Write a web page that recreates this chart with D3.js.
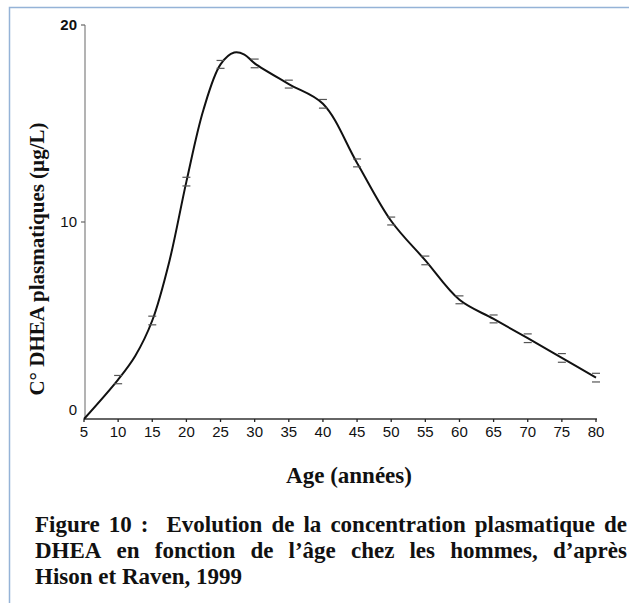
<!DOCTYPE html>
<html>
<head>
<meta charset="utf-8">
<script src="https://cdn.jsdelivr.net/npm/d3@7"></script>
<style>
  html, body { margin: 0; padding: 0; background: #fff; }
  svg { display: block; }
</style>
</head>
<body>
<div id="chart"></div>
<script>
// curve (age, µg/L)
const curveAges = [5, 10, 12.5, 15, 17.5, 20, 22.5, 25, 27, 28.5, 30, 35, 40, 45, 50, 55, 60, 65, 70, 75, 80]
const curveValues = [0, 2.0, 3.2, 5.0, 8.0, 12.05, 15.7, 18.0, 18.6, 18.5, 18.05, 17.0, 16.0, 13.0, 10.05, 8.05, 6.05, 5.08, 4.1, 3.1, 2.1]

// error bars
const barAges = [10, 15, 20, 25, 30, 35, 40, 45, 50, 55, 60, 65, 70, 75, 80]
const barMeans = [2.0, 5.0, 12.05, 18.0, 18.05, 17.0, 16.0, 13.0, 10.05, 8.05, 6.05, 5.08, 4.1, 3.1, 2.1]
const barSpread = [0.21, 0.22, 0.22, 0.2, 0.22, 0.2, 0.22, 0.2, 0.2, 0.22, 0.2, 0.2, 0.22, 0.22, 0.22]

const xTicks = [5, 10, 15, 20, 25, 30, 35, 40, 45, 50, 55, 60, 65, 70, 75, 80]
const yTicks = [0, 10, 20]

const yTitle = 'C° DHEA plasmatiques (µg/L)'
const xTitle = 'Age (années)'
const captionLines = [
  ['Figure', '10', ':', '', 'Evolution', 'de', 'la', 'concentration', 'plasmatique', 'de'],
  ['DHEA', 'en', 'fonction', 'de', 'l’âge', 'chez', 'les', 'hommes,', 'd’après'],
  ['Hison et Raven, 1999']
]

const width = 629
const height = 603
const serif = '"Liberation Serif", "Times New Roman", serif'
const sans = '"Liberation Sans", Arial, sans-serif'

const svg = d3
  .select('#chart')
  .append('svg')
  .attr('width', width)
  .attr('height', height)

svg.append('rect').attr('width', width).attr('height', height).attr('fill', '#fff')

// light blue frame, top and left
svg
  .append('path')
  .attr('d', 'M9.5,' + height + 'V7.5H' + width)
  .attr('fill', 'none')
  .attr('stroke', '#95b3d7')
  .attr('stroke-width', 1.5)

const x = d3.scaleLinear().domain([5, 80]).range([84, 596])
const y = d3.scaleLinear().domain([0, 20]).range([419, 25])

// y axis
svg
  .append('line')
  .attr('x1', x(5) + 1)
  .attr('x2', x(5) + 1)
  .attr('y1', y(20))
  .attr('y2', y(0))
  .attr('stroke', '#8a8a8a')
  .attr('stroke-width', 1.3)

const yAxis = svg.append('g')
yAxis
  .selectAll('.ytick')
  .data(yTicks)
  .enter()
  .append('line')
  .attr('x1', x(5) - 3)
  .attr('x2', x(5) + 1)
  .attr('y1', d => y(d))
  .attr('y2', d => y(d))
  .attr('stroke', '#666')
  .attr('stroke-width', d => (d === 0 ? 0 : 1.2))

yAxis
  .selectAll('.ylabel')
  .data(yTicks)
  .enter()
  .append('text')
  .text(d => d)
  .attr('x', x(5) - 7)
  .attr('y', d => y(d) + (d === 0 ? -9 : 0))
  .attr('dy', '0.36em')
  .attr('text-anchor', 'end')
  .style('font-family', sans)
  .style('font-size', '15px')
  .style('font-weight', d => (d === 20 ? 700 : 400))
  .attr('fill', '#111')

// x axis
svg
  .append('line')
  .attr('x1', x(5))
  .attr('x2', x(80) + 1)
  .attr('y1', y(0))
  .attr('y2', y(0))
  .attr('stroke', '#333')
  .attr('stroke-width', 1.5)

const xAxis = svg.append('g')
xAxis
  .selectAll('.xtick')
  .data(xTicks)
  .enter()
  .append('line')
  .attr('x1', d => x(d))
  .attr('x2', d => x(d))
  .attr('y1', y(0))
  .attr('y2', y(0) + 3)
  .attr('stroke', '#222')
  .attr('stroke-width', 1.3)

xAxis
  .selectAll('.xlabel')
  .data(xTicks)
  .enter()
  .append('text')
  .text(d => d)
  .attr('x', d => x(d))
  .attr('y', 437)
  .attr('text-anchor', 'middle')
  .style('font-family', sans)
  .style('font-size', '15px')
  .attr('fill', '#111')

// curve
const points = curveAges.map((a, i) => [a, curveValues[i]])
const line = d3
  .line()
  .x(d => x(d[0]))
  .y(d => y(d[1]))
  .curve(d3.curveCatmullRom.alpha(0.5))

svg
  .append('path')
  .datum(points)
  .attr('d', line)
  .attr('fill', 'none')
  .attr('stroke', '#111')
  .attr('stroke-width', 2)

// error bar caps
const bars = barAges.map((a, i) => ({ age: a, mean: barMeans[i], sd: barSpread[i] }))
const caps = svg.append('g')
bars.forEach(function(d) {
  ;[d.mean + d.sd, d.mean - d.sd].forEach(function(v) {
    caps
      .append('line')
      .attr('x1', x(d.age) - 4)
      .attr('x2', x(d.age) + 4)
      .attr('y1', y(v))
      .attr('y2', y(v))
      .attr('stroke', '#555')
      .attr('stroke-width', 1.2)
  })
})

// axis titles
svg
  .append('text')
  .text(yTitle)
  .attr('transform', 'translate(44,' + 259 + ') rotate(-90)')
  .attr('text-anchor', 'middle')
  .style('font-family', serif)
  .style('font-size', '21px')
  .style('font-weight', 700)
  .attr('fill', '#111')

svg
  .append('text')
  .text(xTitle)
  .attr('x', 349)
  .attr('y', 483)
  .attr('text-anchor', 'middle')
  .style('font-family', serif)
  .style('font-size', '23px')
  .style('font-weight', 700)
  .attr('fill', '#111')

// caption, first two lines justified
const capLeft = 35
const capRight = 627
const capBase = [532, 558, 584]
captionLines.forEach(function(words, li) {
  const g = svg.append('g')
  const nodes = words.map(w =>
    g
      .append('text')
      .text(w)
      .attr('y', capBase[li])
      .style('font-family', serif)
      .style('font-size', '23px')
      .style('font-weight', 700)
      .attr('fill', '#111')
  )
  if (words.length === 1) {
    nodes[0].attr('x', capLeft)
    return
  }
  const widths = nodes.map(n => n.node().getComputedTextLength())
  const gap = (capRight - capLeft - d3.sum(widths)) / (words.length - 1)
  let cx = capLeft
  nodes.forEach(function(n, i) {
    n.attr('x', cx)
    cx += widths[i] + gap
  })
})
</script>
</body>
</html>
